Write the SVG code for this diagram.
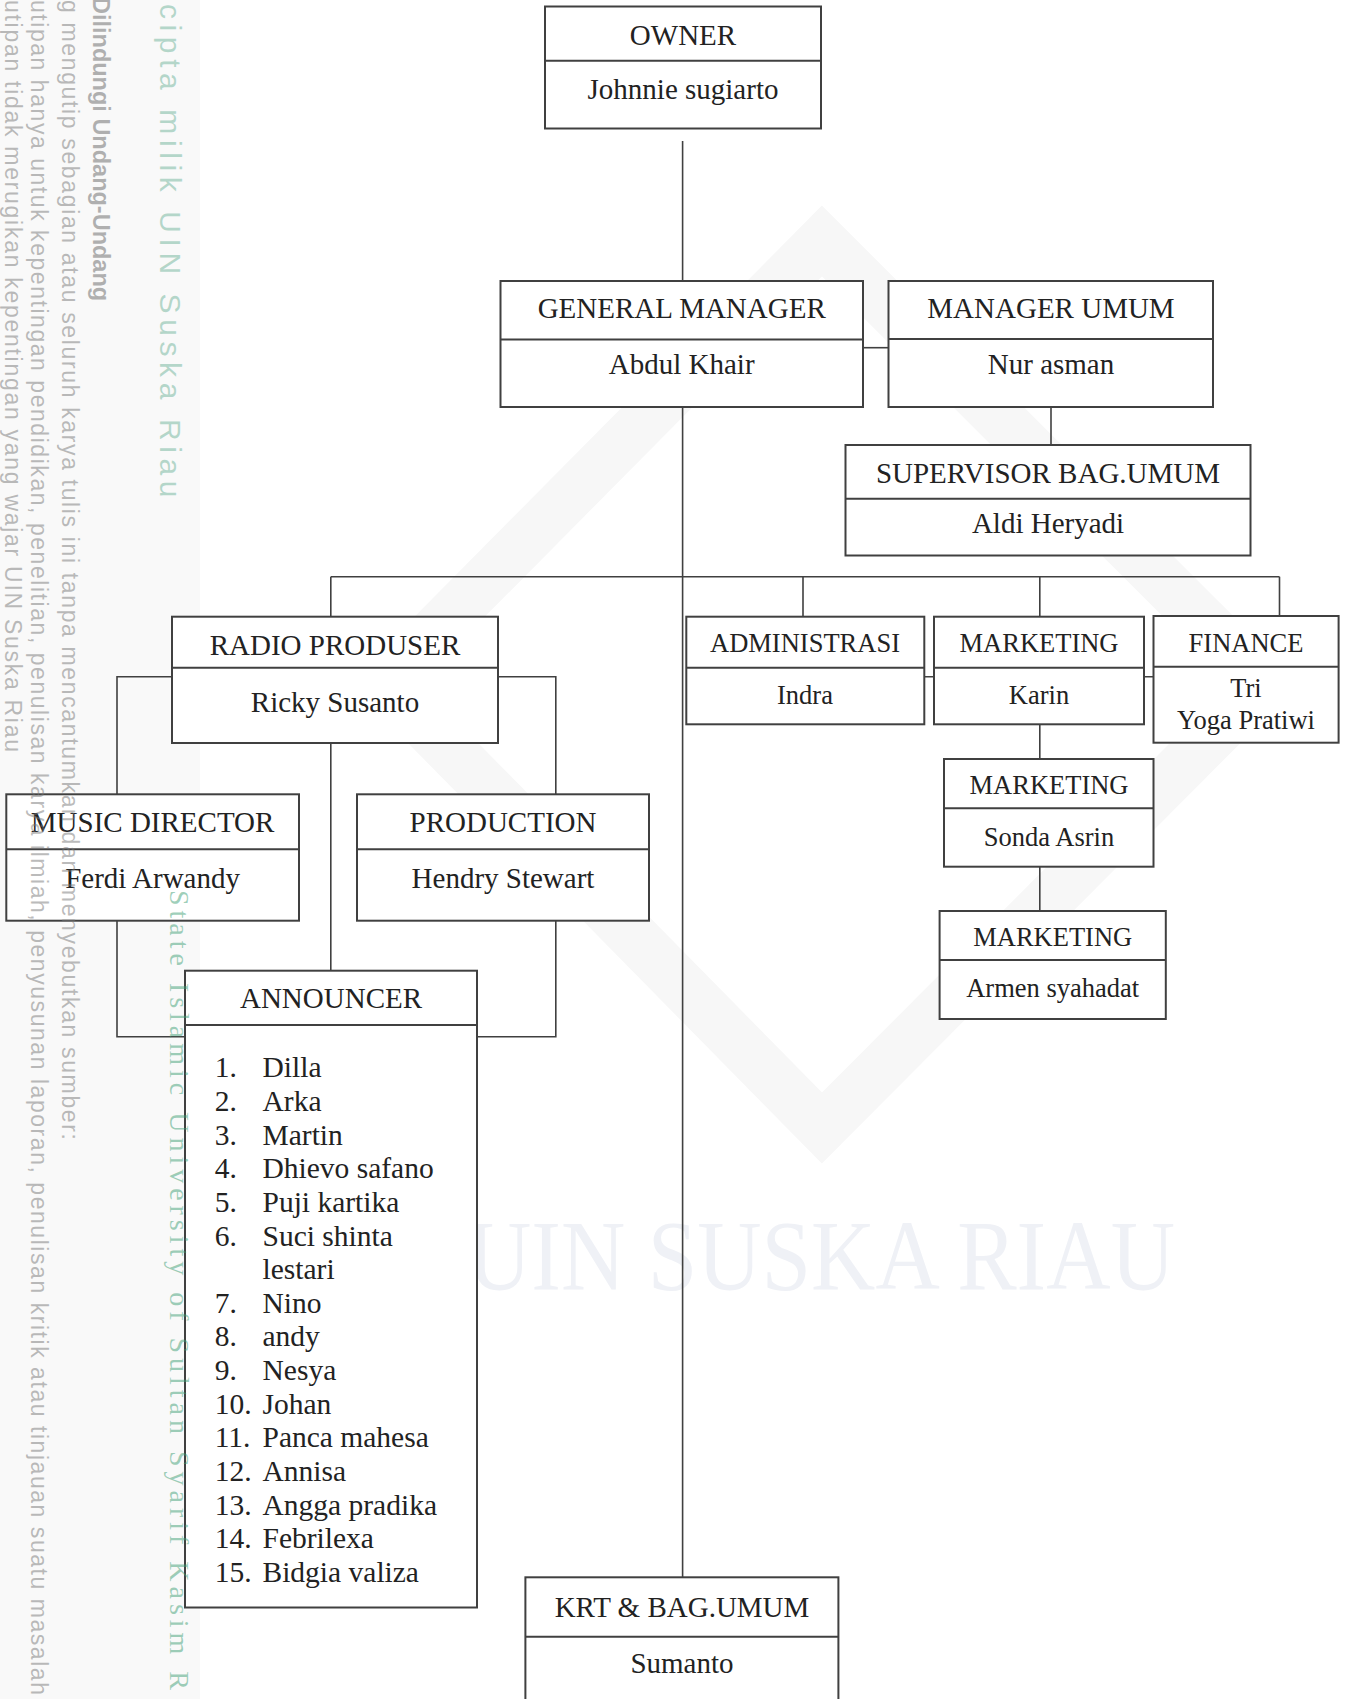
<svg xmlns="http://www.w3.org/2000/svg" width="1346" height="1699" viewBox="0 0 1346 1699">
<style>
.box{fill:#fff;stroke:#404040;stroke-width:2}
.div{stroke:#404040;stroke-width:2}
.ln{fill:none;stroke:#404040;stroke-width:1.6}
.t{font-family:"Liberation Serif","Times New Roman",serif;font-size:29px;fill:#222;text-anchor:middle}
.s{font-family:"Liberation Serif","Times New Roman",serif;font-size:26.5px;fill:#222;text-anchor:middle}
.li{font-family:"Liberation Serif","Times New Roman",serif;font-size:29.5px;fill:#222}
.wg{font-family:"Liberation Sans",Arial,sans-serif;font-size:23px;fill:#777;fill-opacity:0.5}
.wb{font-family:"Liberation Sans",Arial,sans-serif;font-size:23.5px;font-weight:bold;fill:#666;fill-opacity:0.5}
</style>
<rect width="1346" height="1699" fill="#fff"/>
<g id="background">
<rect x="0" y="0" width="200" height="1699" fill="#f9f9f9"/>
<polygon points="822,241 1265,683 822,1128 384,683" fill="none" stroke="#f7f7f7" stroke-width="50"/>
<text x="467" y="1289" font-family="'Liberation Serif','Times New Roman',serif" font-size="100" fill="#eff1f6" textLength="708" lengthAdjust="spacingAndGlyphs">UIN SUSKA RIAU</text>
</g>
<g id="connectors">
<path class="ln" d="M682.6,141 V281"/>
<path class="ln" d="M682.6,407 V1577"/>
<path class="ln" d="M863,347.7 H888.5"/>
<path class="ln" d="M1051,407 V445"/>
<path class="ln" d="M330.8,576.7 H1279.5"/>
<path class="ln" d="M330.8,576.7 V616.7 M803,576.7 V616.7 M1039.8,576.7 V616.7 M1279.5,576.7 V616"/>
<path class="ln" d="M172,676.7 H117 V1036.7 H185"/>
<path class="ln" d="M498,676.7 H555.8 V1036.7 H477"/>
<path class="ln" d="M330.8,743 V970.7"/>
<path class="ln" d="M924.3,676.7 H934 M1144,676.7 H1153.5"/>
<path class="ln" d="M1039.8,724.3 V759 M1039.8,866.7 V911"/>
</g>
<g id="owner">
<rect class="box" x="545" y="6.5" width="276" height="122"/>
<line class="div" x1="545" y1="60.7" x2="821" y2="60.7"/>
<text class="t" x="683" y="45">OWNER</text>
<text class="t" x="683" y="99">Johnnie sugiarto</text>
</g>
<g id="general-manager">
<rect class="box" x="500.5" y="281" width="362.5" height="126"/>
<line class="div" x1="500.5" y1="339.5" x2="863" y2="339.5"/>
<text class="t" x="681.7" y="318">GENERAL MANAGER</text>
<text class="t" x="681.7" y="374">Abdul Khair</text>
</g>
<g id="manager-umum">
<rect class="box" x="888.5" y="281" width="324.5" height="126"/>
<line class="div" x1="888.5" y1="339" x2="1213" y2="339"/>
<text class="t" x="1051" y="318">MANAGER UMUM</text>
<text class="t" x="1051" y="374">Nur asman</text>
</g>
<g id="supervisor">
<rect class="box" x="845.5" y="445" width="405" height="110.5"/>
<line class="div" x1="845.5" y1="498.7" x2="1250.5" y2="498.7"/>
<text class="t" x="1048" y="483">SUPERVISOR BAG.UMUM</text>
<text class="t" x="1048" y="533">Aldi Heryadi</text>
</g>
<g id="radio-produser">
<rect class="box" x="172" y="616.7" width="326" height="126.3"/>
<line class="div" x1="172" y1="667.7" x2="498" y2="667.7"/>
<text class="t" x="335" y="655">RADIO PRODUSER</text>
<text class="t" x="335" y="711.7">Ricky Susanto</text>
</g>
<g id="music-director">
<rect class="box" x="6.3" y="794.3" width="292.7" height="126.4"/>
<line class="div" x1="6.3" y1="849.3" x2="299" y2="849.3"/>
<text class="t" x="152.6" y="832">MUSIC DIRECTOR</text>
<text class="t" x="152.6" y="888">Ferdi Arwandy</text>
</g>
<g id="production">
<rect class="box" x="357" y="794.3" width="292" height="126.4"/>
<line class="div" x1="357" y1="849.3" x2="649" y2="849.3"/>
<text class="t" x="503" y="832">PRODUCTION</text>
<text class="t" x="503" y="888">Hendry Stewart</text>
</g>
<g id="announcer">
<rect class="box" x="185" y="970.7" width="292" height="636.8"/>
<line class="div" x1="185" y1="1025" x2="477" y2="1025"/>
<text class="t" x="331" y="1008">ANNOUNCER</text>
<g class="li">
<text x="214.7" y="1077.3">1.</text><text x="262.5" y="1077.3">Dilla</text>
<text x="214.7" y="1110.9">2.</text><text x="262.5" y="1110.9">Arka</text>
<text x="214.7" y="1144.6">3.</text><text x="262.5" y="1144.6">Martin</text>
<text x="214.7" y="1178.2">4.</text><text x="262.5" y="1178.2">Dhievo safano</text>
<text x="214.7" y="1211.8">5.</text><text x="262.5" y="1211.8">Puji kartika</text>
<text x="214.7" y="1245.5">6.</text><text x="262.5" y="1245.5">Suci shinta</text>
<text x="262.5" y="1279.1">lestari</text>
<text x="214.7" y="1312.7">7.</text><text x="262.5" y="1312.7">Nino</text>
<text x="214.7" y="1346.4">8.</text><text x="262.5" y="1346.4">andy</text>
<text x="214.7" y="1380">9.</text><text x="262.5" y="1380">Nesya</text>
<text x="214.7" y="1413.6">10.</text><text x="262.5" y="1413.6">Johan</text>
<text x="214.7" y="1447.3">11.</text><text x="262.5" y="1447.3">Panca mahesa</text>
<text x="214.7" y="1480.9">12.</text><text x="262.5" y="1480.9">Annisa</text>
<text x="214.7" y="1514.5">13.</text><text x="262.5" y="1514.5">Angga pradika</text>
<text x="214.7" y="1548.2">14.</text><text x="262.5" y="1548.2">Febrilexa</text>
<text x="214.7" y="1581.8">15.</text><text x="262.5" y="1581.8">Bidgia valiza</text>
</g>
</g>
<g id="administrasi">
<rect class="box" x="686.3" y="616.7" width="238" height="107.6"/>
<line class="div" x1="686.3" y1="667.7" x2="924.3" y2="667.7"/>
<text class="s" x="805" y="652.3">ADMINISTRASI</text>
<text class="s" x="805" y="704">Indra</text>
</g>
<g id="marketing">
<rect class="box" x="934" y="616.7" width="210" height="107.6"/>
<line class="div" x1="934" y1="667.7" x2="1144" y2="667.7"/>
<text class="s" x="1039" y="652.3">MARKETING</text>
<text class="s" x="1039" y="704">Karin</text>
</g>
<g id="finance">
<rect class="box" x="1153.5" y="616" width="185.1" height="126.7"/>
<line class="div" x1="1153.5" y1="666.7" x2="1338.6" y2="666.7"/>
<text class="s" x="1246" y="651.7">FINANCE</text>
<text class="s" x="1246" y="697.3">Tri</text>
<text class="s" x="1246" y="729">Yoga Pratiwi</text>
</g>
<g id="marketing-2">
<rect class="box" x="944" y="759" width="209.5" height="107.7"/>
<line class="div" x1="944" y1="808.3" x2="1153.5" y2="808.3"/>
<text class="s" x="1049" y="794">MARKETING</text>
<text class="s" x="1049" y="845.7">Sonda Asrin</text>
</g>
<g id="marketing-3">
<rect class="box" x="939.6" y="911" width="226.2" height="108"/>
<line class="div" x1="939.6" y1="960" x2="1165.8" y2="960"/>
<text class="s" x="1052.7" y="945.7">MARKETING</text>
<text class="s" x="1052.7" y="997.3">Armen syahadat</text>
</g>
<g id="krt">
<rect class="box" x="525.4" y="1577.3" width="313" height="140"/>
<line class="div" x1="525.4" y1="1636.7" x2="838.4" y2="1636.7"/>
<text class="t" x="682" y="1617">KRT &amp; BAG.UMUM</text>
<text class="t" x="682" y="1672.7">Sumanto</text>
</g>
<g id="watermark">
<text transform="translate(160,4) rotate(90)" font-family="'Liberation Sans',Arial,sans-serif" font-size="30" letter-spacing="5.6" fill="#6fb39a" fill-opacity="0.5">cipta milik UIN Suska Riau</text>
<text class="wb" transform="translate(93,-3) rotate(90)">Dilindungi Undang-Undang</text>
<text class="wg" transform="translate(62,0) rotate(90)" textLength="1140">g mengutip sebagian atau seluruh karya tulis ini tanpa mencantumkan dan menyebutkan sumber:</text>
<text class="wg" transform="translate(31,0) rotate(90)" textLength="1695">utipan hanya untuk kepentingan pendidikan, penelitian, penulisan karya ilmiah, penyusunan laporan, penulisan kritik atau tinjauan suatu masalah</text>
<text class="wg" transform="translate(5,0) rotate(90)" textLength="752">utipan tidak merugikan kepentingan yang wajar UIN Suska Riau</text>
<text transform="translate(170,890) rotate(90)" font-family="'Liberation Serif','Times New Roman',serif" font-size="28" fill="#3f9f75" fill-opacity="0.5" textLength="800">State Islamic University of Sultan Syarif Kasim R</text>
</g>
</svg>
